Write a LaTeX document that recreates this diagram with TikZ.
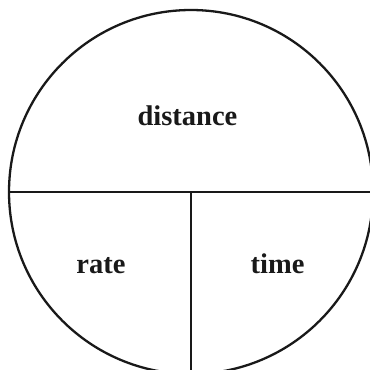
\documentclass[tikz,border=0pt]{standalone}
\usepackage{fontspec}
\setmainfont{Liberation Serif}
\begin{document}
\begin{tikzpicture}[x=1pt,y=-1pt,
  lbl/.style={font=\fontsize{28.5}{31}\selectfont\bfseries, anchor=base, inner sep=0pt, text=black!90},
  ln/.style={line width=2.3pt, black!90}]
\useasboundingbox (0,0) rectangle (370,370);
\begin{scope}
\clip (0,0) rectangle (370,370);
\coordinate (c) at (191,192);
\draw[ln] (c) circle[radius=182];
\coordinate (hl) at (9,192);
\coordinate (hr) at (373,192);
\coordinate (vt) at (191,192);
\coordinate (vb) at (191,374);
\draw[ln] (hl) -- (hr);
\draw[ln] (vt) -- (vb);
\end{scope}
\node[lbl] (d) at (187.5,125) {distance};
\node[lbl] (r) at (101,273) {rate};
\node[lbl] (t) at (277.5,273) {time};
\end{tikzpicture}
\end{document}
